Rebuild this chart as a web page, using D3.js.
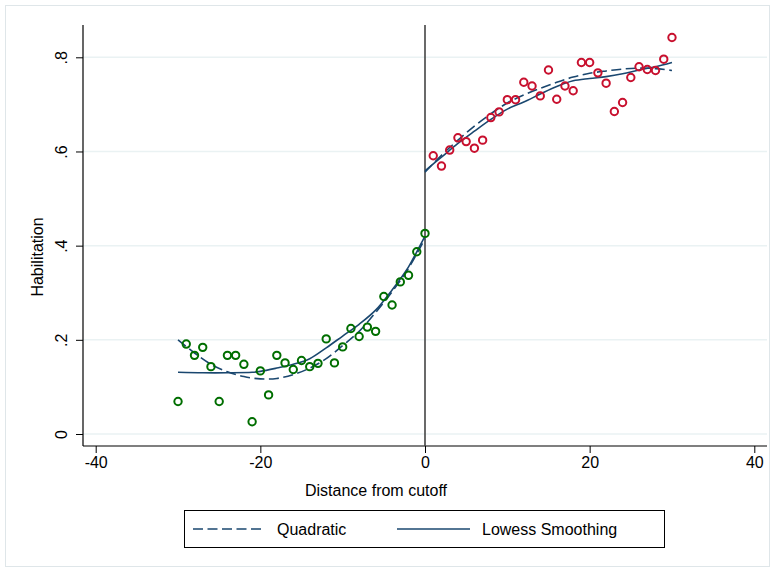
<!DOCTYPE html>
<html>
<head>
<meta charset="utf-8">
<script src="https://cdn.jsdelivr.net/npm/d3@7"></script>
<style>
  body { margin: 0; background: #fff; }
  svg { display: block; font-family: "Liberation Sans", Arial, sans-serif; }
</style>
</head>
<body>
<div id="chart"></div>
<script>
// axis ticks
var xTicks = [-40, -20, 0, 20, 40];
var yTicks = [0, 0.2, 0.4, 0.6, 0.8];

// scatter: below cutoff (green) and above cutoff (red)
var leftX = [-30,-29,-28,-27,-26,-25,-24,-23,-22,-21,-20,-19,-18,-17,-16,-15,-14,-13,-12,-11,-10,-9,-8,-7,-6,-5,-4,-3,-2,-1,0];
var leftY = [0.069,0.191,0.167,0.184,0.143,0.069,0.167,0.167,0.148,0.026,0.134,0.083,0.167,0.151,0.137,0.156,0.143,0.150,0.202,0.151,0.185,0.224,0.207,0.227,0.218,0.292,0.274,0.323,0.337,0.387,0.426];
var rightX = [1,2,3,4,5,6,7,8,9,10,11,12,13,14,15,16,17,18,19,20,21,22,23,24,25,26,27,28,29,30];
var rightY = [0.591,0.569,0.603,0.629,0.621,0.607,0.624,0.672,0.684,0.710,0.710,0.747,0.739,0.718,0.773,0.711,0.739,0.729,0.789,0.789,0.767,0.745,0.685,0.704,0.757,0.780,0.774,0.772,0.796,0.842];

// quadratic fit
var quadLeftX = [-30,-28,-26,-24,-22,-20,-18,-16,-14,-12,-10,-8,-6,-4,-2,0];
var quadLeftY = [0.200,0.172,0.148,0.132,0.122,0.117,0.118,0.126,0.140,0.160,0.188,0.218,0.258,0.302,0.352,0.415];
var quadRightX = [0,2,4,6,8,10,12,14,16,18,20,22,24,26,28,30];
var quadRightY = [0.556,0.592,0.624,0.654,0.680,0.703,0.720,0.734,0.747,0.758,0.766,0.771,0.775,0.777,0.776,0.772];

// lowess smoothing
var lowLeftX = [-30,-27,-24,-21,-20,-18,-16,-14,-12,-10,-8,-6,-4,-2,-1,0];
var lowLeftY = [0.131,0.130,0.130,0.131,0.133,0.140,0.148,0.160,0.183,0.208,0.233,0.263,0.306,0.355,0.387,0.420];
var lowRightX = [0,2,4,6,8,10,12,14,16,18,20,22,24,26,28,30];
var lowRightY = [0.559,0.588,0.617,0.643,0.668,0.690,0.705,0.722,0.738,0.750,0.755,0.759,0.765,0.773,0.780,0.789];

var legendLabels = ["Quadratic", "Lowess Smoothing"];

var width = 775, height = 572;
var lineColor = "#1a476f";

var svg = d3.select("#chart").append("svg")
    .attr("width", width)
    .attr("height", height);

// outer frame
svg.append("rect")
    .attr("x", 5.5).attr("y", 5.5)
    .attr("width", 764).attr("height", 561)
    .attr("fill", "none")
    .attr("stroke", "#dfe6e9");

var x = d3.scaleLinear().domain([-40, 40]).range([95.7, 754.3]);
var y = d3.scaleLinear().domain([0, 0.8]).range([434, 57.3]);

var plotLeft = 83, plotRight = 767, plotTop = 25, plotBottom = 446;

// gridlines
svg.append("g").selectAll("line")
    .data(yTicks)
    .enter().append("line")
    .attr("x1", plotLeft).attr("x2", plotRight)
    .attr("y1", function(d) { return y(d); })
    .attr("y2", function(d) { return y(d); })
    .attr("stroke", "#eaf2f3")
    .attr("stroke-width", 1.5);

// axis lines
svg.append("line")
    .attr("x1", plotLeft).attr("x2", plotLeft)
    .attr("y1", plotTop).attr("y2", plotBottom)
    .attr("stroke", "#000").attr("stroke-width", 1.2);
svg.append("line")
    .attr("x1", plotLeft).attr("x2", plotRight)
    .attr("y1", plotBottom).attr("y2", plotBottom)
    .attr("stroke", "#000").attr("stroke-width", 1.2);

// x axis (plain hyphen for negatives, as in the original)
var xAxis = svg.append("g")
    .attr("transform", "translate(0," + plotBottom + ")")
    .call(d3.axisBottom(x).tickValues(xTicks).tickSize(7).tickPadding(4)
        .tickFormat(function(d) { return String(d); }));
xAxis.select(".domain").remove();
xAxis.selectAll("line").attr("stroke", "#000");
xAxis.selectAll("text").attr("font-size", 16).attr("fill", "#000")
    .attr("font-family", "Liberation Sans, Arial, sans-serif");

// y axis, labels turned like Stata's
var yAxis = svg.append("g")
    .attr("transform", "translate(" + plotLeft + ",0)")
    .call(d3.axisLeft(y).tickValues(yTicks).tickSize(7)
        .tickFormat(function(d) { return d === 0 ? "0" : d3.format(".1f")(d).replace(/^0/, ""); }));
yAxis.select(".domain").remove();
yAxis.selectAll("line").attr("stroke", "#000");
yAxis.selectAll("text")
    .attr("font-size", 16).attr("fill", "#000")
    .attr("font-family", "Liberation Sans, Arial, sans-serif")
    .attr("x", null).attr("dy", null)
    .attr("text-anchor", "middle")
    .attr("transform", "translate(-16,0) rotate(-90)");

// axis titles
svg.append("text")
    .attr("transform", "translate(43,257) rotate(-90)")
    .attr("text-anchor", "middle")
    .attr("font-size", 16)
    .text("Habilitation");
svg.append("text")
    .attr("x", 376).attr("y", 496)
    .attr("text-anchor", "middle")
    .attr("font-size", 16)
    .text("Distance from cutoff");

// cutoff line
svg.append("line")
    .attr("x1", x(0)).attr("x2", x(0))
    .attr("y1", plotTop).attr("y2", plotBottom)
    .attr("stroke", "#444").attr("stroke-width", 1.6);

// fitted lines
var line = d3.line()
    .x(function(d) { return x(d[0]); })
    .y(function(d) { return y(d[1]); })
    .curve(d3.curveCatmullRom);

function pairs(xs, ys) { return xs.map(function(v, i) { return [v, ys[i]]; }); }

[[quadLeftX, quadLeftY], [quadRightX, quadRightY]].forEach(function(s) {
  svg.append("path")
      .datum(pairs(s[0], s[1]))
      .attr("d", line)
      .attr("fill", "none")
      .attr("stroke", lineColor)
      .attr("stroke-width", 1.6)
      .attr("stroke-dasharray", "10,4.5");
});
[[lowLeftX, lowLeftY], [lowRightX, lowRightY]].forEach(function(s) {
  svg.append("path")
      .datum(pairs(s[0], s[1]))
      .attr("d", line)
      .attr("fill", "none")
      .attr("stroke", lineColor)
      .attr("stroke-width", 1.6);
});

// markers
svg.append("g").selectAll("circle")
    .data(pairs(leftX, leftY))
    .enter().append("circle")
    .attr("cx", function(d) { return x(d[0]); })
    .attr("cy", function(d) { return y(d[1]); })
    .attr("r", 3.7)
    .attr("fill", "none")
    .attr("stroke", "#006e00")
    .attr("stroke-width", 2);
svg.append("g").selectAll("circle")
    .data(pairs(rightX, rightY))
    .enter().append("circle")
    .attr("cx", function(d) { return x(d[0]); })
    .attr("cy", function(d) { return y(d[1]); })
    .attr("r", 3.7)
    .attr("fill", "none")
    .attr("stroke", "#c8102e")
    .attr("stroke-width", 2);

// legend
var legend = svg.append("g");
legend.append("rect")
    .attr("x", 184.5).attr("y", 510.5)
    .attr("width", 480).attr("height", 37)
    .attr("fill", "#fff")
    .attr("stroke", "#000");
var legendItems = [
  {label: legendLabels[0], x1: 193, x2: 262, tx: 277, dash: "10,4.5"},
  {label: legendLabels[1], x1: 397, x2: 470, tx: 482, dash: null}
];
legendItems.forEach(function(it) {
  legend.append("line")
      .attr("x1", it.x1).attr("x2", it.x2)
      .attr("y1", 529).attr("y2", 529)
      .attr("stroke", lineColor)
      .attr("stroke-width", 1.6)
      .attr("stroke-dasharray", it.dash);
  legend.append("text")
      .attr("x", it.tx).attr("y", 535)
      .attr("font-size", 16)
      .text(it.label);
});
</script>
</body>
</html>
